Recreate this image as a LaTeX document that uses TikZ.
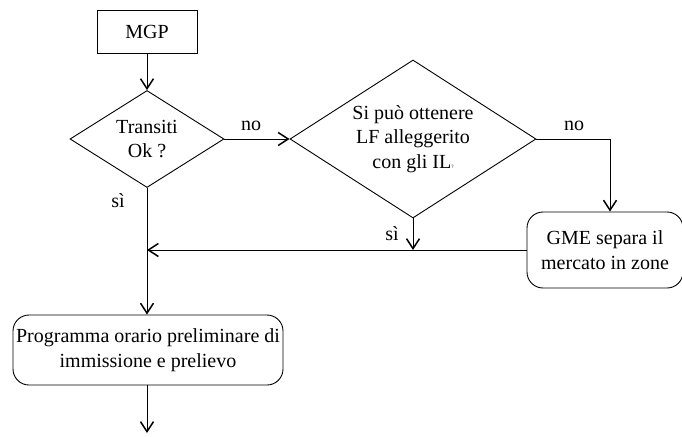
\documentclass[tikz,border=0pt]{standalone}
\usepackage{fontspec}
\setmainfont{Liberation Serif}
\usetikzlibrary{arrows.meta,shapes.geometric}
\tikzset{
	every node/.style={font=\rmfamily\fontsize{20}{24.5}\selectfont, align=center},
	flow/.style={line width=0.9pt, -{Straight Barb[length=10pt, width=13pt, line width=1.5pt]}},
	plain/.style={line width=0.9pt},
	box/.style={draw, line width=0.9pt, inner sep=0pt},
	rbox/.style={box, rounded corners=16pt},
	test/.style={draw, diamond, line width=0.9pt, inner sep=0pt, aspect=1.6}
}

\begin{document}
\begin{tikzpicture}[x=1pt, y=-1pt]
		%%%%% START %%%%%
		\useasboundingbox (0, 0) rectangle (682, 436);
		
		\node[box, minimum width=100pt, minimum height=43pt] (mgp) at (147, 31.5) {MGP};
		\node[test, minimum width=154pt, minimum height=97pt] (ok) at (147, 139) {Transiti\\Ok ?};
		\node[test, minimum width=246pt, minimum height=158pt] (il) at (413, 139) {Si può ottenere\\LF alleggerito\\con gli IL{\fontsize{5}{5}\selectfont ?}};
		\node[rbox, minimum width=156pt, minimum height=76pt] (gme) at (605, 250) {GME separa il\\mercato in zone};
		\node[rbox, minimum width=270pt, minimum height=70pt] (prog) at (148, 350) {Programma orario preliminare di\\immissione e prelievo};
		
		\coordinate (join) at (147, 250);
		\coordinate (merge) at (413, 250);
		\coordinate (bend) at (610, 139);
		\coordinate (exit) at (147, 433);
		
		\draw[flow] (mgp) -- (ok);
		\draw[flow] (ok.east) -- (il.west);
		\draw[plain] (il.east) -- (bend);
		\draw[flow] (bend) -- (gme.north -| bend);
		\draw[flow] (il.south) -- (merge);
		\draw[flow] (gme.west) -- (join);
		\draw[flow] (ok.south) -- (prog.north -| ok.south);
		\draw[flow] (prog.south -| exit) -- (exit);
		
		\node at (251, 126) {no};
		\node at (574, 126) {no};
		\node at (118, 201) {sì};
		\node at (392, 234) {sì};
		%%%%% END %%%%%
	\end{tikzpicture}
\end{document}
